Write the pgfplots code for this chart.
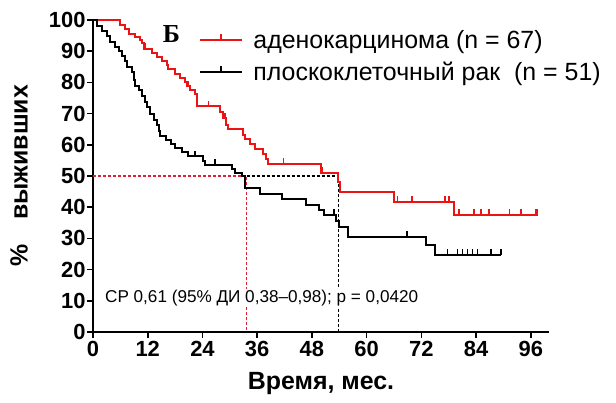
\documentclass[border=0pt]{standalone}
\usepackage{fontspec}
\setmainfont{Liberation Sans}
\newfontfamily\timesf{Liberation Serif}
\usepackage{pgfplots}
\pgfplotsset{compat=1.18}
\pgfdeclareplotmark{cens}{\pgfpathmoveto{\pgfqpoint{0pt}{0pt}}\pgfpathlineto{\pgfqpoint{0pt}{5.5bp}}\pgfusepathqstroke}
\definecolor{kmred}{RGB}{235,20,20}
\definecolor{dashred}{RGB}{225,30,50}
\begin{document}
\begin{tikzpicture}
\useasboundingbox (-93bp,-71bp) rectangle (523bp,332bp);
\begin{axis}[
  at={(0,0)}, anchor=origin,
  scale only axis, width=456bp, height=312bp,
  xmin=0, xmax=100, ymin=0, ymax=100,
  axis x line=bottom, axis y line=left,
  axis line style={-, line width=1.6bp},
  xtick={0,12,...,96}, ytick={0,10,...,100},
  tick align=outside, major tick length=6bp,
  tick style={line width=1.6bp, black},
  /pgf/number format/assume math mode=true,
  ticklabel style={font=\bfseries\fontsize{22}{22}\selectfont},
  yticklabel style={xshift=2bp},
  xlabel={Время, мес.},
  ylabel={\%\quad выживших},
  xlabel style={font=\bfseries\fontsize{25}{25}\selectfont, at={(axis description cs:0.5,0)}, anchor=center, yshift=-52bp},
  ylabel style={font=\bfseries\fontsize{25}{25}\selectfont, at={(axis description cs:-0.135,0.5)}, anchor=south},
  clip=false,
  legend style={at={(axis cs:23.3,96.8)}, anchor=north west, draw=none, fill=none, inner sep=0pt,
     font=\fontsize{25}{25}\selectfont, row sep=12bp, nodes={inner sep=0pt},
     /tikz/every odd column/.append style={column sep=10bp}},
  legend cell align=left,
  legend image code/.code={\draw[#1] (0bp,0bp) -- (42bp,0bp); \draw[#1] (21bp,0bp) -- (21bp,6bp);},
]
% median lines
\addplot[dashred, line width=1.4bp, dash pattern=on 3bp off 2bp, forget plot] coordinates {(0,50) (33.7,50) (33.7,0)};
\addplot[black, line width=1.4bp, dash pattern=on 3bp off 2bp, forget plot] coordinates {(33.7,50) (53.8,50) (53.8,0)};
\node[fill=white, inner sep=1bp, anchor=west, font=\fontsize{17.2}{17.2}\selectfont] at (axis cs:2.4,11) {СР 0,61 (95\% ДИ 0,38–0,98); p = 0,0420};
% adenocarcinoma
\addplot[kmred, line width=2bp, const plot] coordinates {
(0,100) (5.9,98.5) (7.0,97.0) (8.0,95.5) (9.2,94.5) (10.2,93.5) (10.7,92.5) (11.1,90.8) (12.9,89.5) (14.0,88.0) (15.1,86.8) (16.2,85.6) (16.5,84.2) (18.0,82.7) (19.1,81.4) (20.2,80.2) (20.6,78.8) (21.3,77.6) (22.4,76.2) (22.8,72.3) (27.9,70.4) (28.6,68.5) (29.2,66.5) (29.6,65.0) (32.9,63.3) (33.3,61.7) (34.4,60.1) (35.5,58.5) (37.3,56.9) (38.0,55.3) (38.3,54.0) (50.0,51.0) (53.7,48.0) (54.2,45.0) (66.0,41.8) (79.2,37.5) (97.5,37.5)};
\addlegendentry{аденокарцинома (n = 67)}
% squamous
\addplot[black, line width=2bp, const plot] coordinates {
(0,100) (0.9,98.0) (2.0,96.5) (3.1,95.0) (3.8,93.0) (4.9,91.5) (5.6,90.0) (6.4,88.4) (7.1,86.8) (7.5,85.0) (8.6,83.3) (8.9,80.9) (9.3,79.0) (10.0,77.5) (10.8,75.6) (11.5,73.8) (11.9,72.0) (12.6,69.9) (13.3,68.0) (14.0,66.3) (14.4,64.3) (14.8,62.9) (16.1,61.6) (17.0,60.2) (18.0,59.0) (19.5,57.6) (20.9,56.3) (24.2,54.8) (24.6,53.6) (30.5,52.2) (31.2,51.0) (32.7,49.9) (33.4,46.1) (36.7,44.2) (41.5,42.6) (46.8,40.7) (49.5,39.1) (50.6,37.5) (53.2,35.6) (53.9,33.8) (55.9,30.5) (73.0,27.9) (74.9,24.8) (89.5,24.8)};
\addlegendentry{плоскоклеточный рак\ \ (n = 51)}
% censored marks
\addplot[kmred, only marks, mark=cens, mark options={line width=1.6bp}, forget plot] coordinates {
(11.5,90.8) (20.8,78.8) (25.3,72.3) (28.9,68.5) (41.8,54.0) (50.3,51.0) (66.8,41.8) (70.0,41.8) (77.2,41.8) (78.1,41.8)
(80.3,37.5) (83.6,37.5) (85.1,37.5) (86.9,37.5) (91.3,37.5) (93.8,37.5) (97.1,37.5) (97.5,37.5)};
\addplot[black, only marks, mark=cens, mark options={line width=1.6bp}, forget plot] coordinates {
(22.4,56.3) (26.8,53.6) (52.8,37.5) (68.9,30.5)
(77.7,24.8) (79.9,24.8) (81.0,24.8) (82.1,24.8) (83.2,24.8) (84.3,24.8) (87.3,24.8) (89.5,24.8)};
\node[font=\timesf\bfseries\fontsize{26}{26}\selectfont] at (axis cs:17.2,95.6) {Б};
\end{axis}
\end{tikzpicture}
\end{document}
